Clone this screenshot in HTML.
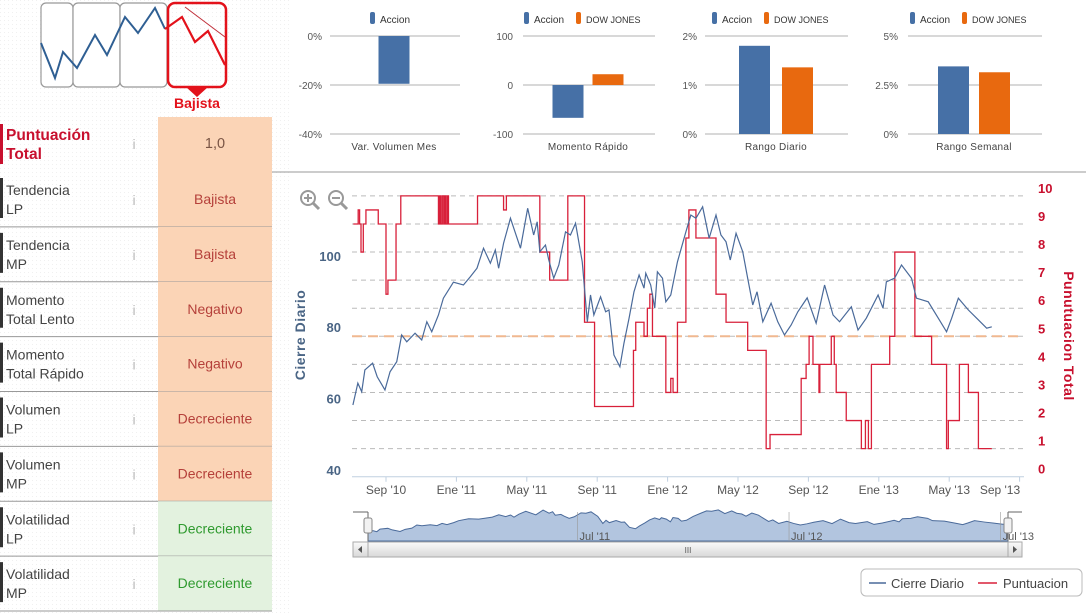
<!DOCTYPE html>
<html><head><meta charset="utf-8"><style>
html,body{margin:0;padding:0;background:#fff;}
svg{display:block;font-family:"Liberation Sans","DejaVu Sans",sans-serif;}
</style></head><body>
<svg id="root" width="1086" height="613" viewBox="0 0 1086 613" xmlns="http://www.w3.org/2000/svg">
<defs>
<pattern id="dots" width="4" height="4" patternUnits="userSpaceOnUse"><rect width="4" height="4" fill="#fff"/><rect width="1" height="1" fill="#f0f0f0"/></pattern>
<linearGradient id="sb" x1="0" y1="0" x2="0" y2="1"><stop offset="0" stop-color="#fafafa"/><stop offset="1" stop-color="#d8d8d8"/></linearGradient>
</defs>
<rect x="0" y="0" width="290" height="613" fill="url(#dots)"/>
<g>
<rect x="41" y="3" width="32" height="84" rx="5" fill="#fff" stroke="#999" stroke-width="1.2"/>
<rect x="73" y="3" width="47" height="84" rx="5" fill="#fff" stroke="#999" stroke-width="1.2"/>
<rect x="120" y="3" width="47" height="84" rx="5" fill="#fff" stroke="#999" stroke-width="1.2"/>
<polyline points="41,43 55,78 63,52 77,68 95,35 107,55 125,17 138,33 155,8 165,29" fill="none" stroke="#2f5f93" stroke-width="2"/>
<rect x="168" y="3" width="58" height="84" rx="7" fill="none" stroke="#e3121b" stroke-width="2.5"/>
<polyline points="165,29 182,17 195,42 208,31 225,65" fill="none" stroke="#e3121b" stroke-width="2.2"/>
<line x1="185" y1="7" x2="225" y2="37" stroke="#c0303a" stroke-width="1"/>
<polygon points="186,87 208,87 197,97" fill="#e3121b"/>
<text x="197" y="108" text-anchor="middle" font-size="14" font-weight="bold" fill="#e3121b">Bajista</text>
</g>
<g id="table"></g>
<g id="minis"></g>
<line x1="272" y1="172" x2="1086" y2="172" stroke="#999" stroke-width="1"/>
<g id="main"></g>
<g><circle cx="308" cy="198" r="7" fill="none" stroke="#999" stroke-width="2"/><line x1="313" y1="203" x2="319" y2="209" stroke="#999" stroke-width="3"/><line x1="304" y1="198" x2="312" y2="198" stroke="#999" stroke-width="2"/><line x1="308" y1="194" x2="308" y2="202" stroke="#999" stroke-width="2"/></g>
<g><circle cx="336" cy="198" r="7" fill="none" stroke="#999" stroke-width="2"/><line x1="341" y1="203" x2="347" y2="209" stroke="#999" stroke-width="3"/><line x1="332" y1="198" x2="340" y2="198" stroke="#999" stroke-width="2"/></g>
<g id="nav"></g>
<g>
<rect x="861" y="569" width="221" height="27" rx="5" fill="#fff" stroke="#bbb"/>
<g><line x1="869" y1="583" x2="886" y2="583" stroke="#4a6a9a" stroke-width="1.5"/><text x="891" y="588" font-size="13" fill="#444">Cierre Diario</text></g>
<g><line x1="978" y1="583" x2="997" y2="583" stroke="#d8203a" stroke-width="1.5"/><text x="1003" y="588" font-size="13" fill="#444">Puntuacion</text></g>
</g>
</svg>
<script>
const NS="http://www.w3.org/2000/svg";
function mk(parent,tag,attrs,txt){const e=document.createElementNS(NS,tag);for(const k in attrs)e.setAttribute(k,attrs[k]);if(txt!==undefined)e.textContent=txt;parent.appendChild(e);return e;}

const rowTitles=["Tendencia","Tendencia","Momento","Momento","Volumen","Volumen","Volatilidad","Volatilidad"];
const rowSubs=["LP","MP","Total Lento","Total Rápido","LP","MP","LP","MP"];
const rowValues=["Bajista","Bajista","Negativo","Negativo","Decreciente","Decreciente","Decreciente","Decreciente"];
const rowGood=[false,false,false,false,false,false,true,true];

const tbl=document.getElementById('table');
let h=mk(tbl,'g',{});


mk(h,'rect',{x:158,y:117,width:114,height:55,fill:'#fbd4b6'});
mk(h,'rect',{x:0,y:124,width:3,height:40,fill:'#c8102e'});
mk(h,'text',{x:6,y:140,'font-size':15.5,'font-weight':'bold',fill:'#c8102e'},'Puntuación');
mk(h,'text',{x:6,y:159,'font-size':15.5,'font-weight':'bold',fill:'#c8102e'},'Total');
mk(h,'text',{x:134,y:149,'font-size':14,fill:'#bbb','text-anchor':'middle'},'i');
let hv=mk(h,'text',{x:215,y:148,'font-size':14.5,fill:'#7a5545','text-anchor':'middle'},'1,0');


for(let i=0;i<rowTitles.length;i++){
  const top=172+i*54.875;
  const g=mk(tbl,'g',{});
  
  
  mk(g,'rect',{x:158,y:top,width:114,height:55,fill:rowGood[i]?'#e3f2df':'#fbd4b6'});
  mk(g,'rect',{x:0,y:top+6,width:3,height:40,fill:'#333'});
  mk(g,'text',{x:6,y:top+23,'font-size':14,fill:'#444'},rowTitles[i]);
  mk(g,'text',{x:6,y:top+42,'font-size':14,fill:'#444'},rowSubs[i]);
  const ic=mk(g,'text',{x:134,y:top+33,'font-size':14,fill:'#bbb','text-anchor':'middle'},'i');
  
  
  const v=mk(g,'text',{x:215,y:top+32,'font-size':14,fill:rowGood[i]?'#2f9a2f':'#b5403a','text-anchor':'middle'},rowValues[i]);
  
  
  mk(g,'line',{x1:0,y1:top+54.875,x2:272,y2:top+54.875,stroke:'#999','stroke-width':1});
}

const miniTitles=["Var. Volumen Mes","Momento Rápido","Rango Diario","Rango Semanal"];
const miniAccion=[-19.5,-67,1.8,3.45];
const miniDow=[null,22,1.36,3.15];
const miniTicks=[[0,-20,-40],[100,0,-100],[2,1,0],[5,2.5,0]];
const miniTickLabels=[["0%","-20%","-40%"],["100","0","-100"],["2%","1%","0%"],["5%","2.5%","0%"]];
const miniLayout=[{gx:330,gw:130,lab:322,cx:394,gap:0},{gx:523,gw:132,lab:513,cx:588,gap:4.5},{gx:705,gw:143,lab:697,cx:776,gap:6},{gx:908,gw:134,lab:898,cx:974,gap:5}];
const minis=document.getElementById('minis');
for(let c=0;c<4;c++){
  const L=miniLayout[c];
  const g=mk(minis,'g',{});
  
  
  const tmax=miniTicks[c][0],tmin=miniTicks[c][2];
  const y=v=>36+(tmax-v)/(tmax-tmin)*98;
  miniTicks[c].forEach((t,k)=>{
    mk(g,'line',{x1:L.gx,y1:y(t),x2:L.gx+L.gw,y2:y(t),stroke:'#ccc','stroke-width':1.5});
    mk(g,'text',{x:L.lab,y:y(t)+4,'font-size':10,fill:'#555','text-anchor':'end'},miniTickLabels[c][k]);
  });
  const cx=L.cx;
  const two=miniDow[c]!==null;
  const bw=31;
  const bx=two?[cx-bw-L.gap,cx+L.gap]:[cx-bw/2];
  const vals=two?[miniAccion[c],miniDow[c]]:[miniAccion[c]];
  const cols=['#4670a6','#e8690f'];
  vals.forEach((v,k)=>{
    const zero=y(tmin<0&&tmax>0?0:(tmin>=0?tmin:tmax));
    const y1=y(v);
    const b=mk(g,'rect',{x:bx[k],y:Math.min(zero,y1),width:bw,height:Math.abs(zero-y1),fill:cols[k]});
    
    
  });
  mk(g,'text',{x:cx,y:150,'font-size':10,fill:'#444','text-anchor':'middle','letter-spacing':'0.3'},miniTitles[c]);
  const lx=two?cx-64:cx-24;
  mk(g,'rect',{x:lx,y:12,width:5,height:12,rx:2,fill:'#4670a6'});
  mk(g,'text',{x:lx+10,y:23,'font-size':10,fill:'#333'},'Accion');
  if(two){mk(g,'rect',{x:lx+52,y:12,width:5,height:12,rx:2,fill:'#e8690f'});
    mk(g,'text',{x:lx+62,y:23,'font-size':9,fill:'#333'},'DOW JONES');}
}

const blueM=[-1.88,-1.60,-1.38,-1.20,-0.76,-0.50,-0.06,0.23,0.61,0.89,1.18,1.65,2.03,2.32,2.60,2.98,3.26,3.83,4.40,4.79,5.17,5.54,5.93,6.21,6.40,6.68,7.07,7.64,8.05,8.39,8.59,8.74,9.06,9.25,9.53,9.82,10.20,10.48,10.77,11.15,11.44,11.62,11.81,12.19,12.48,12.67,12.95,13.29,13.52,13.81,14.09,14.38,14.66,14.76,15.04,15.27,15.42,15.71,15.90,16.18,16.56,17.04,17.32,17.61,17.99,18.36,18.75,19.03,19.32,19.56,19.89,20.27,20.55,20.84,21.08,21.41,21.88,22.26,22.64,23.02,23.40,23.93,24.44,24.92,25.40,25.77,26.44,26.82,27.29,27.96,28.24,28.43,28.90,29.29,29.86,30.14,30.81,31.38,31.85,32.14,32.52,33.09,33.56,34.13,34.42];
const blueV=[58.5,64.6,62.2,68.3,70.2,66.4,62.7,67.8,70.6,78.1,76.2,78.6,76.7,81.8,79,83.7,88.4,92.9,92.1,94.4,96.8,102.4,98.2,101.9,96.8,103.8,110.8,102.4,113.6,106.1,109.8,101.4,103.3,99.1,94,97.7,107,106.1,109.4,98.6,81.8,89.3,83.7,88.8,84.6,85.1,72.5,69.2,75.8,82.8,90.2,94.9,91.2,95.4,92.1,85.6,95.8,94,87.4,89.3,98.6,107,111.7,110.8,114,105.2,111.7,106.1,104.2,99.1,106.6,101.4,94,86.5,90.2,81.8,87,81.8,78.1,80.9,84.6,88.5,81.4,92.1,83.7,81.8,86,79.5,82.8,89.3,85.6,93,94,97.7,94,88.4,87.4,82.8,79,82.8,88.4,85.1,82.8,80,80.4];
const redM=[-1.86,-1.58,-1.50,-1.42,-1.29,-1.14,-0.44,0,0.11,0.57,0.84,2.98,3.05,3.12,3.20,3.28,3.35,3.42,3.50,3.55,5.20,6.68,6.84,8.74,9.30,10.33,11.28,11.85,14.06,14.19,14.66,14.85,14.99,15.14,15.90,16.18,16.31,16.56,17.04,17.21,17.61,18.75,19.32,20.55,21.60,21.82,23.59,23.87,24.04,24.26,24.60,24.65,25.30,25.47,25.58,26.15,27.01,27.24,27.41,27.58,28.62,28.91,30.05,31.00,31.85,31.95,32.58,33.09,33.66,34.42];
const redV=[9,9.5,9,8,9,9.5,9,6.5,7,9,10,9,10,9,10,9,10,9,10,9,10,9.5,10,8,7,10,5.5,2.5,4.5,5.5,5,6,6.5,5,3,3.5,3,5.5,8.5,9.5,8.5,6.5,5.5,4.5,1,1.5,3.5,4,5,4,3,4,5,4,3,2,1,2,1,4,5,8,5,4,1,2,4,3,1,1];
const xTickM=[0,4,8,12,16,20,24,28,32,36];
const xTickLabels=["Sep '10","Ene '11","May '11","Sep '11","Ene '12","May '12","Sep '12","Ene '13","May '13","Sep '13"];
const leftTicks=[40,60,80,100];
const rightTicks=[0,1,2,3,4,5,6,7,8,9,10];
const refLine=[5];
const navTickM=[10,22,34];
const navTickLabels=["Jul '11","Jul '12","Jul '13"];

const X=m=>386+m*17.6;
const YL=v=>471-(v-40)*3.57;
const YR=v=>476.7-v*28.08;
const main=document.getElementById('main');
const grid=mk(main,'g',{});


rightTicks.forEach(t=>{
  if(t>0) mk(grid,'line',{x1:352,y1:YR(t),x2:1024,y2:YR(t),stroke:'#bbb','stroke-dasharray':'5,4','stroke-width':1});
  const l=mk(main,'text',{x:1038,y:YR(t)-3,'font-size':13,'font-weight':'bold',fill:'#c8102e'},String(t));
  
  
});
mk(main,'line',{x1:352,y1:YR(0),x2:1024,y2:YR(0),stroke:'#c0d0e0','stroke-width':1});
leftTicks.forEach(t=>{
  const l=mk(main,'text',{x:341,y:YL(t)+4,'font-size':13,'font-weight':'bold',fill:'#4a6585','text-anchor':'end'},String(t));
  
  
});
xTickM.forEach((m,i)=>{
  mk(main,'line',{x1:X(m),y1:YR(0),x2:X(m),y2:YR(0)+5,stroke:'#c0d0e0'});
  const l=mk(main,'text',{x:Math.min(X(m),1000),y:494,'font-size':12,fill:'#555','text-anchor':'middle'},xTickLabels[i]);
  
  
});
const ref=mk(main,'line',{x1:352,y1:YR(refLine[0]),x2:1024,y2:YR(refLine[0]),stroke:'#f0b890','stroke-width':2,'stroke-dasharray':'10,6'});


let d='';
for(let i=0;i<redM.length;i++){
  const x=X(redM[i]),y=YR(redV[i]);
  if(i===0) d+='M'+x+','+y; else d+='H'+x+'V'+y;
}
const rp=mk(main,'path',{d:d,fill:'none',stroke:'#d8203a','stroke-width':1.3});


const bp=mk(main,'polyline',{points:blueM.map((m,i)=>X(m)+','+YL(blueV[i])).join(' '),fill:'none',stroke:'#4a6a9a','stroke-width':1.2});


const lt=mk(main,'text',{x:0,y:0,'font-size':14,'font-weight':'bold',fill:'#4a6585','text-anchor':'middle',transform:'translate(305,335) rotate(-90)','letter-spacing':'0.5'},'Cierre Diario');


const rt=mk(main,'text',{x:0,y:0,'font-size':14,'font-weight':'bold',fill:'#c8102e','text-anchor':'middle',transform:'translate(1064,336) rotate(90)','letter-spacing':'0.5'},'Punutuacion Total');



const nav=document.getElementById('nav');
const mMin=blueM[0],mMax=blueM[blueM.length-1];
const NX=m=>368+(m-mMin)/(mMax-mMin)*640;
const NY=v=>541-(v-40)*0.42;
let nd='M'+NX(blueM[0])+',541 '+blueM.map((m,i)=>'L'+NX(m)+','+NY(blueV[i])).join(' ')+' L'+NX(mMax)+',541 Z';
const na=mk(nav,'path',{d:nd,fill:'#b2c5df',stroke:'#4a6a9a','stroke-width':1});


navTickM.forEach((m,i)=>{
  mk(nav,'line',{x1:NX(m),y1:512,x2:NX(m),y2:541,stroke:'#999','stroke-width':0.6});
  mk(nav,'text',{x:NX(m)+2,y:540,'font-size':11,fill:'#555'},navTickLabels[i]);
});
mk(nav,'line',{x1:353,y1:512,x2:368,y2:512,stroke:'#666'});
mk(nav,'line',{x1:368,y1:512,x2:368,y2:541,stroke:'#666'});
mk(nav,'line',{x1:1008,y1:512,x2:1022,y2:512,stroke:'#666'});
mk(nav,'line',{x1:1008,y1:512,x2:1008,y2:541,stroke:'#666'});
[368,1008].forEach((hx,k)=>{
  const hh=mk(nav,'rect',{x:hx-4,y:518,width:8,height:15,rx:2,fill:'#f2f2f2',stroke:'#888'});
  
  
});
const track=mk(nav,'rect',{x:353,y:542,width:669,height:15,fill:'#eee',stroke:'#bbb'});


const thumb=mk(nav,'rect',{x:368,y:542,width:640,height:15,fill:'url(#sb)',stroke:'#aaa'});


mk(nav,'text',{x:688,y:553,'font-size':8,fill:'#555','text-anchor':'middle'},'III');
const bl=mk(nav,'rect',{x:353,y:542,width:15,height:15,fill:'url(#sb)',stroke:'#aaa'});


mk(nav,'polygon',{points:'362,546 362,553 358,549.5',fill:'#555'});
const br=mk(nav,'rect',{x:1008,y:542,width:14,height:15,fill:'url(#sb)',stroke:'#aaa'});


mk(nav,'polygon',{points:'1013,546 1013,553 1017,549.5',fill:'#555'});
</script>
</body></html>
